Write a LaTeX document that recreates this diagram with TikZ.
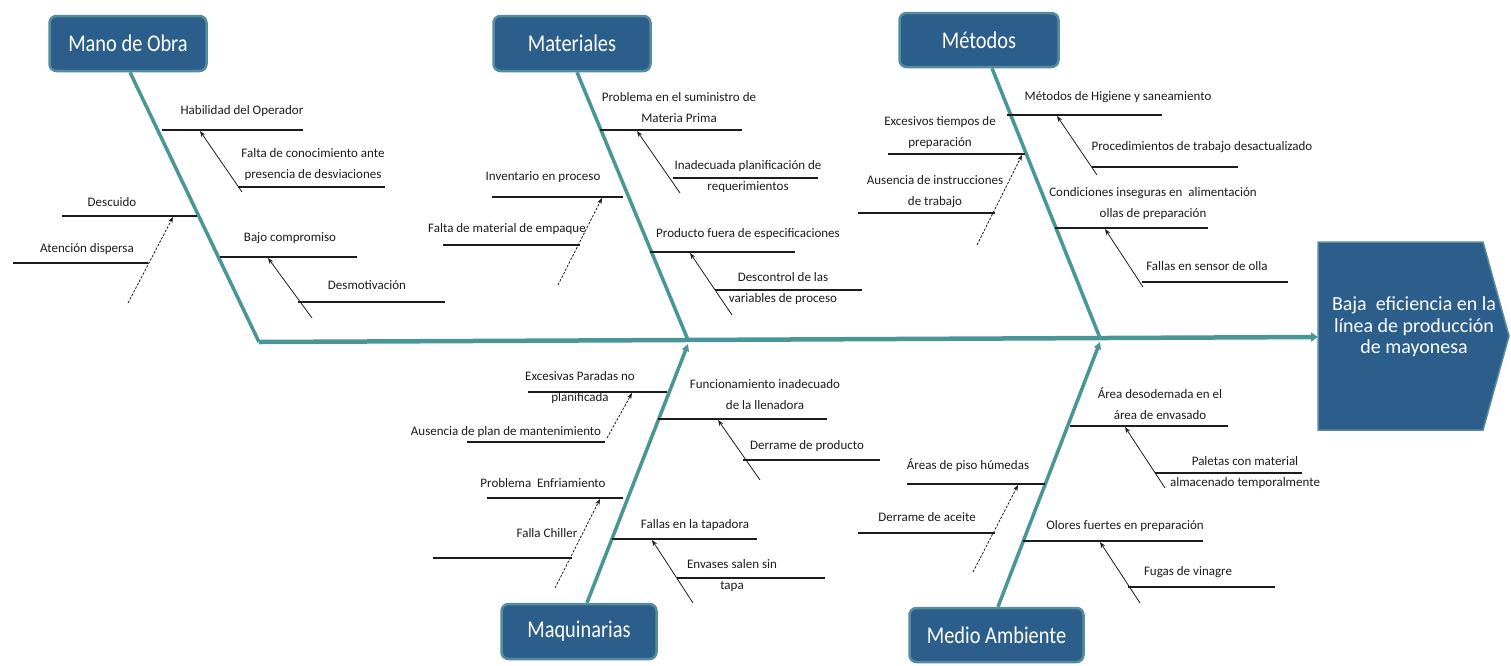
\documentclass[tikz,border=0pt]{standalone}
\usepackage{fontspec}
\setmainfont{Carlito}
\newfontfamily\boxfont[FakeStretch=0.85]{Carlito}
\usetikzlibrary{arrows.meta}

\definecolor{boneteal}{RGB}{74,150,150}
\definecolor{boxblue}{RGB}{44,94,140}
\definecolor{boxedge}{RGB}{86,140,156}
\definecolor{linegray}{RGB}{28,28,28}

% one horizontal cause bar: name, x1, x2, y
\newcommand\causebar[4]{%
  \coordinate (#1-a) at (#2,#4);
  \coordinate (#1-b) at (#3,#4);
  \draw[causeline] (#1-a) -- (#1-b);}
% one sub-cause arrow: name, tail x, tail y, tip x, tip y, style
\newcommand\subcause[6]{%
  \coordinate (#1-tail) at (#2,#3);
  \coordinate (#1-tip) at (#4,#5);
  \draw[#6] (#1-tail) -- (#1-tip);}

\begin{document}
\begin{tikzpicture}[x=1pt,y=-1pt,
  category/.style={draw=boxedge, line width=2.5pt, fill=boxblue,
    rounded corners=7pt, text=white, inner sep=0pt,
    font=\boxfont\fontsize{24}{26}\selectfont},
  bone/.style={draw=boneteal, line width=3.5pt},
  spineline/.style={draw=boneteal, line width=4.5pt},
  causeline/.style={draw=linegray, line width=1.1pt},
  subarrow/.style={draw=linegray, line width=0.8pt,
    -{Stealth[length=6pt,width=4.5pt]}},
  dashedarrow/.style={subarrow, dash pattern=on 2.5pt off 1.5pt},
  lbl/.style={font=\fontsize{13}{21}\selectfont, text=linegray,
    align=center, inner sep=0pt},
  headtext/.style={font=\fontsize{20}{21.5}\selectfont, text=white,
    align=center, inner sep=0pt},
]
\useasboundingbox (0,0) rectangle (1511,665);

% ---------- effect head ----------
\draw[fill=boxblue, draw=boxedge, line width=1.5pt]
  (1318,242) -- (1483,242) -- (1509,336) -- (1483,430) -- (1318,430) -- cycle;
\coordinate (headwest) at (1318,337);
\node[headtext] (head) at (1414,327)
  {Baja\ \ eficiencia en la\\línea de producción\\de mayonesa};

% ---------- spine ----------
\coordinate (j1) at (259,342);
\coordinate (j2) at (688,340);
\coordinate (j3) at (1100,338);
\draw[spineline, -{Triangle[length=7pt,width=9pt]}] (j1) -- (headwest);

% ---------- category boxes ----------
\node[category, minimum width=157pt, minimum height=55pt] (mano) at (128,43.5) {Mano de Obra};
\node[category, minimum width=157pt, minimum height=55pt] (mat) at (572,43.5) {Materiales};
\node[category, minimum width=159pt, minimum height=54pt] (met) at (979,40) {Métodos};
\node[category, minimum width=155pt, minimum height=55pt] (maq) at (579,631.5) {Maquinarias};
\node[category, minimum width=174pt, minimum height=54pt] (med) at (996.5,635) {Medio Ambiente};

% ---------- bones ----------
\draw[bone] ([xshift=2pt]mano.south) -- (j1);
\draw[bone] ([xshift=5pt]mat.south) -- (j2);
\draw[bone] ([xshift=13pt]met.south) -- (j3);
\draw[bone, -{Triangle[length=7pt,width=7pt]}] ([xshift=8pt]maq.north) -- ([yshift=-4pt]j2);
\draw[bone, -{Triangle[length=7pt,width=7pt]}] ([xshift=1.5pt]med.north) -- ([yshift=-4pt]j3);

% ---------- Mano de Obra ----------
\causebar{mo1}{162}{303}{130}
\node[lbl] (mo1-t) at (242,111) {Habilidad del Operador};
\subcause{mo1s}{242}{192}{200}{131}{subarrow}
\causebar{mo1x}{238}{385}{187}
\node[lbl] (mo1x-t) at (313,165) {Falta de conocimiento ante\\presencia de desviaciones};

\causebar{mo2}{62}{197}{216}
\node[lbl] (mo2-t) at (112,202) {Descuido};
\subcause{mo2s}{128}{303}{173}{217}{dashedarrow}
\causebar{mo2x}{13}{148}{263}
\node[lbl] (mo2x-t) at (87,249) {Atención dispersa};

\causebar{mo3}{220}{357}{257}
\node[lbl] (mo3-t) at (290,238) {Bajo compromiso};
\subcause{mo3s}{312}{318}{268}{258}{subarrow}
\causebar{mo3x}{298}{445}{302}
\node[lbl] (mo3x-t) at (367,285) {Desmotivación};

% ---------- Materiales ----------
\causebar{ma1}{600}{742}{130}
\node[lbl] (ma1-t) at (679,108) {Problema en el suministro de\\Materia Prima};
\subcause{ma1s}{680}{193}{637}{131}{subarrow}
\causebar{ma1x}{673}{818}{178}
\node[lbl] (ma1x-t) at (748,177) {Inadecuada planificación de\\requerimientos};

\causebar{ma2}{492}{623}{197}
\node[lbl] (ma2-t) at (543,177) {Inventario en proceso};
\subcause{ma2s}{558}{285}{602}{198}{dashedarrow}
\causebar{ma2x}{443}{580}{245}
\node[lbl] (ma2x-t) at (507,229) {Falta de material de empaque};

\causebar{ma3}{650}{795}{252}
\node[lbl] (ma3-t) at (748,234) {Producto fuera de especificaciones};
\subcause{ma3s}{732}{315}{690}{253}{subarrow}
\causebar{ma3x}{715}{862}{290}
\node[lbl] (ma3x-t) at (783,289) {Descontrol de las\\variables de proceso};

% ---------- Métodos ----------
\causebar{me1}{1007}{1162}{115}
\node[lbl] (me1-t) at (1118,97) {Métodos de Higiene y saneamiento};
\subcause{me1s}{1097}{175}{1057}{116}{subarrow}
\causebar{me1x}{1092}{1238}{167}
\node[lbl] (me1x-t) at (1202,147) {Procedimientos de trabajo desactualizado};

\causebar{me2}{888}{1025}{154}
\node[lbl] (me2-t) at (940,133) {Excesivos tiempos de\\preparación};
\subcause{me2s}{977}{245}{1022}{155}{dashedarrow}
\causebar{me2x}{858}{995}{213}
\node[lbl] (me2x-t) at (935,192) {Ausencia de instrucciones\\de trabajo};

\causebar{me3}{1055}{1208}{228}
\node[lbl] (me3-t) at (1153,204) {Condiciones inseguras en\ \ alimentación\\ollas de preparación};
\subcause{me3s}{1143}{287}{1105}{229}{subarrow}
\causebar{me3x}{1142}{1288}{282}
\node[lbl] (me3x-t) at (1207,266) {Fallas en sensor de olla};

% ---------- Maquinarias ----------
\causebar{mq1}{528}{667}{392}
\node[lbl] (mq1-t) at (580,388) {Excesivas Paradas no\\planificada};
\subcause{mq1s}{607}{438}{632}{393}{dashedarrow}
\causebar{mq1x}{467}{605}{442}
\node[lbl] (mq1x-t) at (506,432) {Ausencia de plan de mantenimiento};

\causebar{mq2}{658}{827}{419}
\node[lbl] (mq2-t) at (765,395) {Funcionamiento inadecuado\\de la llenadora};
\subcause{mq2s}{760}{480}{718}{420}{subarrow}
\causebar{mq2x}{743}{880}{460}
\node[lbl] (mq2x-t) at (807,446) {Derrame de producto};

\causebar{mq3}{487}{623}{498}
\node[lbl] (mq3-t) at (543,483) {Problema\ \ Enfriamiento};
\subcause{mq3s}{555}{588}{600}{499}{dashedarrow}
\causebar{mq3x}{433}{572}{558}
\node[lbl] (mq3x-t) at (547,533) {Falla Chiller};

\causebar{mq4}{612}{757}{539}
\node[lbl] (mq4-t) at (695,525) {Fallas en la tapadora};
\subcause{mq4s}{693}{603}{652}{540}{subarrow}
\causebar{mq4x}{677}{825}{578}
\node[lbl] (mq4x-t) at (732,576) {Envases salen sin\\tapa};

% ---------- Medio Ambiente ----------
\causebar{md1}{1070}{1228}{426}
\node[lbl] (md1-t) at (1160,404) {Área desodemada en el\\área de envasado};
\subcause{md1s}{1165}{488}{1125}{427}{subarrow}
\causebar{md1x}{1155}{1302}{473}
\node[lbl] (md1x-t) at (1245,473) {Paletas con material\\almacenado temporalmente};

\causebar{md2}{907}{1045}{484}
\node[lbl] (md2-t) at (968,465) {Áreas de piso húmedas};
\subcause{md2s}{973}{572}{1018}{485}{dashedarrow}
\causebar{md2x}{858}{995}{533}
\node[lbl] (md2x-t) at (927,517) {Derrame de aceite};

\causebar{md3}{1023}{1203}{541}
\node[lbl] (md3-t) at (1125,526) {Olores fuertes en preparación};
\subcause{md3s}{1140}{603}{1100}{542}{subarrow}
\causebar{md3x}{1128}{1275}{587}
\node[lbl] (md3x-t) at (1188,572) {Fugas de vinagre};

\end{tikzpicture}
\end{document}
